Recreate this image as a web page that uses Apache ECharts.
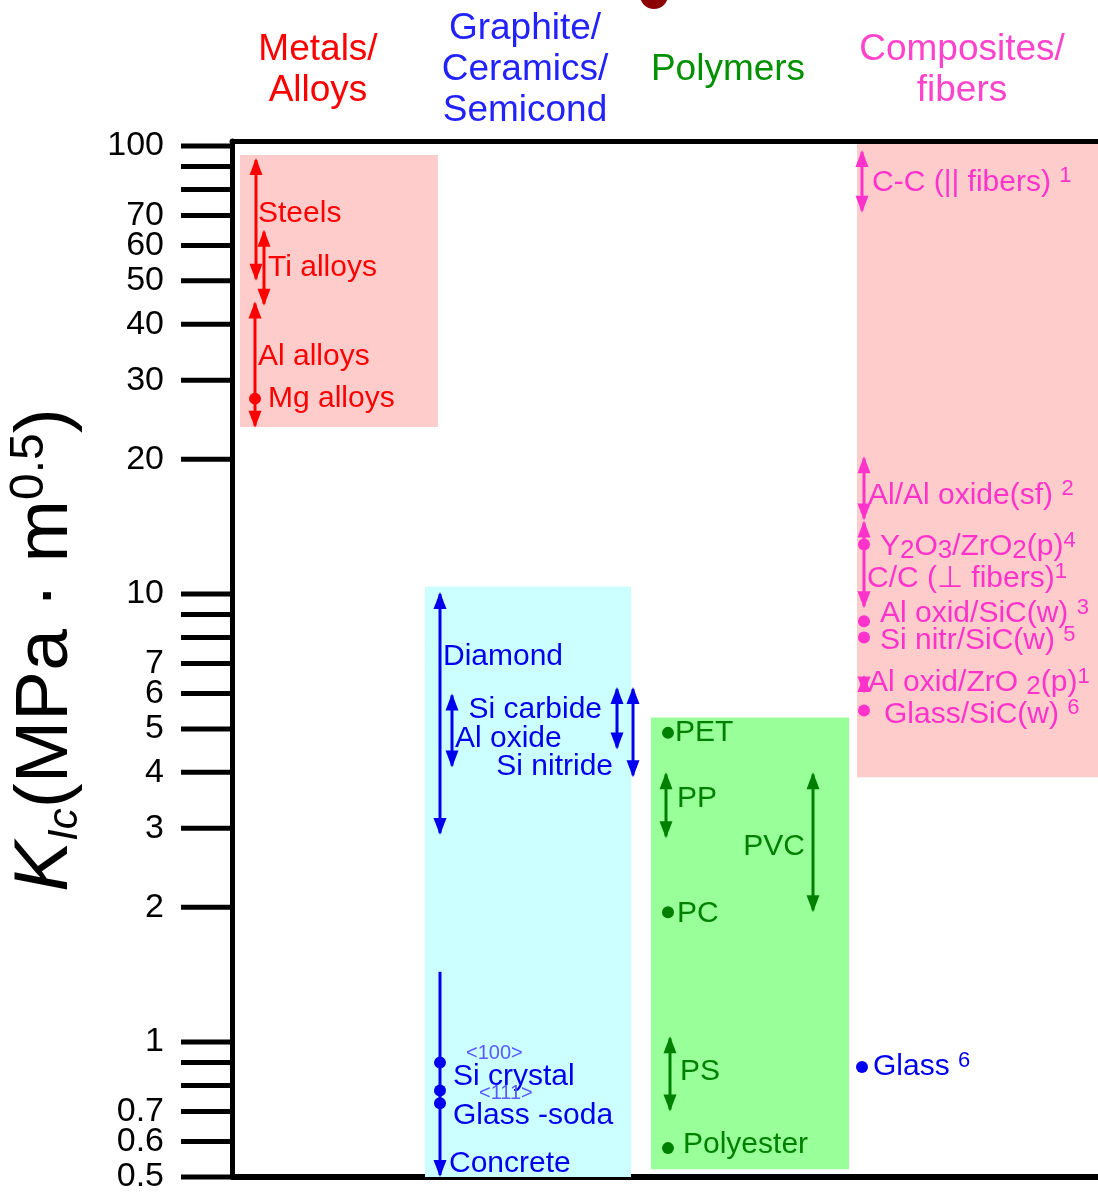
<!DOCTYPE html>
<html>
<head>
<meta charset="utf-8">
<title>Fracture toughness by material class</title>
<script src="https://cdn.jsdelivr.net/npm/echarts@6/dist/echarts.min.js"></script>
<style>
  html, body { margin: 0; padding: 0; background: #fff; }
  #chart { width: 1098px; height: 1193px; }
</style>
</head>
<body>
<div id="chart"></div>
<script>
// ---- data ----
const groupNames = ['Metals/\nAlloys', 'Graphite/\nCeramics/\nSemicond', 'Polymers', 'Composites/\nfibers'];
const groupLow = [23.6, 0.5, 0.52, 3.9];
const groupHigh = [95.5, 10.4, 5.3, 101];

const materials = [
  'Steels', 'Ti alloys', 'Al alloys', 'Mg alloys',
  'Diamond', 'Al oxide', 'Si carbide', 'Si nitride', 'Concrete',
  'Si crystal <100>', 'Si crystal <111>', 'Glass -soda',
  'PET', 'PP', 'PVC', 'PC', 'PS', 'Polyester',
  'C-C (|| fibers)', 'Al/Al oxide(sf)', 'Y2O3/ZrO2(p)', 'C/C (⊥ fibers)',
  'Al oxid/SiC(w)', 'Si nitr/SiC(w)', 'Al oxid/ZrO2(p)', 'Glass/SiC(w)', 'Glass'
];
// K_Ic range, MPa·m^0.5 (low == high -> single value)
const kicLow = [50, 44, 23.5, 27.3, 2.9, 4.1, 4.5, 3.9, 0.5, 0.9, 0.78, 0.73,
  4.9, 2.85, 1.95, 1.95, 0.7, 0.58, 71, 14.6, 12.9, 9.3, 8.7, 8.0, 6.0, 5.5, 0.88];
const kicHigh = [94, 65, 45, 27.3, 10.1, 6.0, 6.2, 6.2, 1.45, 0.9, 0.78, 0.73,
  4.9, 4.0, 4.0, 1.95, 1.03, 0.58, 98, 20.3, 12.9, 14.6, 8.7, 8.0, 6.6, 5.5, 0.88];
// colour class of each material (0 metal, 1 ceramic/glass, 2 polymer, 3 composite)
const materialGroup = [0, 0, 0, 0, 1, 1, 1, 1, 1, 1, 1, 1,
  2, 2, 2, 2, 2, 2, 3, 3, 3, 3, 3, 3, 3, 3, 1];

const tickValues = [100, 90, 80, 70, 60, 50, 40, 30, 20, 10, 9, 8, 7, 6, 5, 4, 3, 2, 1, 0.9, 0.8, 0.7, 0.6, 0.5];
const tickLabels = ['100', '', '', '70', '60', '50', '40', '30', '20', '10', '', '', '7', '6', '5', '4', '3', '2', '1', '', '', '0.7', '0.6', '0.5'];

// ---- layout / style ----
const Y_MIN = 0.5, Y_MAX = 102.6;
const FONT = 'Liberation Sans';
const groupInk = ['#ff0000', '#0000ee', '#008000', '#ff33cc'];
const headerInk = ['#ff0000', '#2222ff', '#009000', '#ff44cc'];
const groupFill = ['#ffcccc', '#ccffff', '#99ff99', '#ffcccc'];
// x in "column units" (0 = left frame line)
const groupX0 = [8, 193, 419, 625];
const groupX1 = [206, 399, 617, 900];
const headerX = [86, 293, 496, 730];
const materialX = [24, 32, 23, 23, 208, 220, 385, 401, 208, 208, 208, 208,
  436, 434, 581, 436, 438, 436, 630, 632, 632, 632, 632, 632, 632, 632, 630];
const materialHeads = materials.map(function (m) { return m === 'Concrete' ? 'low' : 'both'; });

const labelText = [
  'Steels', 'Ti alloys', 'Al alloys', 'Mg alloys',
  'Diamond', 'Al oxide', 'Si carbide', 'Si nitride', 'Concrete',
  '{tag|<100>}\n{p|Si crystal}', '{tag|<111>}', 'Glass -soda',
  'PET', 'PP', 'PVC', 'PC', 'PS', 'Polyester',
  'C-C (|| fibers) {sup|1}', 'Al/Al oxide(sf) {sup|2}', 'Y{sub|2}O{sub|3}/ZrO{sub|2}(p){sup|4}',
  'C/C (⊥ fibers){sup|1}', 'Al oxid/SiC(w) {sup|3}', 'Si nitr/SiC(w) {sup|5}',
  'Al oxid/ZrO {sub|2}(p){sup|1}', 'Glass/SiC(w) {sup|6}', 'Glass {sup|6}'
];
const labelDx = [2, 4, 3, 13, 3, 3, -15, -20, 9, 13, 26, 13, 7, 11, -8, 9, 10, 15, 10, 4, 16, 3, 16, 16, 4, 20, 11];
const labelDy = [-6, 0, -8, 0, -57, 8, -9, 35, 90, 4, 3, 12, 0, -7, 4, 2, -2, -3, 1, 7, 2, 14, -7, 3, -1, 4, 0];
const labelRight = ['Si carbide', 'Si nitride', 'PVC'];

const labelRich = {
  sup: { fontSize: 22, verticalAlign: 'top', lineHeight: 22 },
  sub: { fontSize: 26, verticalAlign: 'bottom', lineHeight: 20 },
  tag: { fontSize: 20, lineHeight: 20, fill: '#5a5aff', padding: [0, 0, 0, 13] },
  p: { fontSize: 30, lineHeight: 26 }
};

function renderGroup(params, api) {
  const i = params.dataIndex;
  const pTop = api.coord([api.value(0), api.value(3)]);
  const pBot = api.coord([api.value(1), api.value(2)]);
  const frameTop = api.coord([0, Y_MAX])[1];
  const hx = api.coord([headerX[i], Y_MAX])[0];
  return {
    type: 'group',
    children: [
      {
        type: 'rect',
        shape: { x: pTop[0], y: pTop[1], width: pBot[0] - pTop[0], height: pBot[1] - pTop[1] },
        style: { fill: groupFill[i] }
      },
      {
        type: 'text', x: hx, y: frameTop - 71,
        style: {
          text: groupNames[i], fill: headerInk[i], fontSize: 37, fontFamily: FONT,
          lineHeight: 41, align: 'center', verticalAlign: 'middle'
        }
      }
    ]
  };
}

function arrowHead(x, y, dir, color) {
  // dir = -1 points up, 1 points down
  const len = 17, half = 6.5;
  return {
    type: 'polygon',
    shape: { points: [[x, y], [x - half, y - dir * len], [x + half, y - dir * len]] },
    style: { fill: color }
  };
}

function renderMaterial(params, api) {
  const i = params.dataIndex;
  const x = api.value(0);
  const pLo = api.coord([x, api.value(1)]);
  const pHi = api.coord([x, api.value(2)]);
  const color = groupInk[materialGroup[i]];
  const children = [];
  if (api.value(1) === api.value(2)) {
    children.push({ type: 'circle', shape: { cx: pHi[0], cy: pHi[1], r: 6 }, style: { fill: color } });
  } else {
    children.push({
      type: 'line',
      shape: { x1: pHi[0], y1: pHi[1] + 2, x2: pLo[0], y2: pLo[1] - 2 },
      style: { stroke: color, lineWidth: 3 }
    });
    if (materialHeads[i] === 'both') children.push(arrowHead(pHi[0], pHi[1], -1, color));
    children.push(arrowHead(pLo[0], pLo[1], 1, color));
  }
  const right = labelRight.indexOf(materials[i]) >= 0;
  children.push({
    type: 'text',
    x: pHi[0] + labelDx[i],
    y: (pHi[1] + pLo[1]) / 2 + labelDy[i],
    style: {
      text: labelText[i], rich: labelRich, fill: color, fontSize: 30, fontFamily: FONT,
      lineHeight: 34, align: right ? 'right' : 'left', verticalAlign: 'middle'
    }
  });
  return { type: 'group', children: children };
}

function renderTick(params, api) {
  const i = params.dataIndex;
  const p = api.coord([0, api.value(1)]);
  return {
    type: 'group',
    children: [
      { type: 'line', shape: { x1: p[0] - 51, y1: p[1], x2: p[0] - 2, y2: p[1] }, style: { stroke: '#000', lineWidth: 5 } },
      {
        type: 'text', x: p[0] - 68, y: p[1],
        style: { text: tickLabels[i], fill: '#000', fontSize: 34, fontFamily: FONT, align: 'right', verticalAlign: 'middle' }
      }
    ]
  };
}

const chart = echarts.init(document.getElementById('chart'), null, { renderer: 'canvas' });
chart.setOption({
  backgroundColor: '#ffffff',
  animation: false,
  grid: { left: 232, right: 0, top: 141, bottom: 16, containLabel: false, outerBoundsMode: 'none' },
  graphic: [
    { type: 'circle', shape: { cx: 654, cy: -5, r: 14 }, style: { fill: '#8b0000' } }
  ],
  xAxis: [
    {
      type: 'value', min: 0, max: 866, position: 'bottom',
      axisLine: { show: true, lineStyle: { color: '#000', width: 6 } },
      axisTick: { show: false }, axisLabel: { show: false }, splitLine: { show: false }
    },
    {
      type: 'value', min: 0, max: 866, position: 'top',
      axisLine: { show: true, lineStyle: { color: '#000', width: 5 } },
      axisTick: { show: false }, axisLabel: { show: false }, splitLine: { show: false }
    }
  ],
  yAxis: {
    type: 'log', logBase: 10, min: Y_MIN, max: Y_MAX,
    axisLine: { show: true, lineStyle: { color: '#000', width: 5 } },
    axisTick: { show: false }, axisLabel: { show: false }, splitLine: { show: false },
    name: '{k|K}{sub|Ic}{n|(MPa · m}{sup|0.5}{n|)}',
    nameLocation: 'middle',
    nameRotate: 90,
    nameGap: 146,
    nameTextStyle: {
      color: '#000', fontFamily: FONT,
      rich: {
        k: { fontSize: 76, fontStyle: 'italic', lineHeight: 80, fontFamily: FONT, padding: [0, 0, 0, 18] },
        sub: { fontSize: 42, fontStyle: 'italic', verticalAlign: 'bottom', lineHeight: 30, fontFamily: FONT },
        n: { fontSize: 75, lineHeight: 80, fontFamily: FONT },
        sup: { fontSize: 48, verticalAlign: 'top', lineHeight: 56, fontFamily: FONT }
      }
    }
  },
  series: [
    {
      type: 'custom', name: 'classes', silent: true,
      renderItem: renderGroup,
      encode: { x: [0, 1], y: [2, 3] },
      data: groupNames.map(function (n, i) { return [groupX0[i], groupX1[i], groupLow[i], groupHigh[i]]; })
    },
    {
      type: 'custom', name: 'materials', silent: true,
      renderItem: renderMaterial,
      encode: { x: 0, y: [1, 2] },
      data: materials.map(function (m, i) { return [materialX[i], kicLow[i], kicHigh[i]]; })
    },
    {
      type: 'custom', name: 'ticks', silent: true,
      renderItem: renderTick,
      encode: { x: 0, y: 1 },
      data: tickValues.map(function (v) { return [0, v]; })
    }
  ]
});
</script>
</body>
</html>
